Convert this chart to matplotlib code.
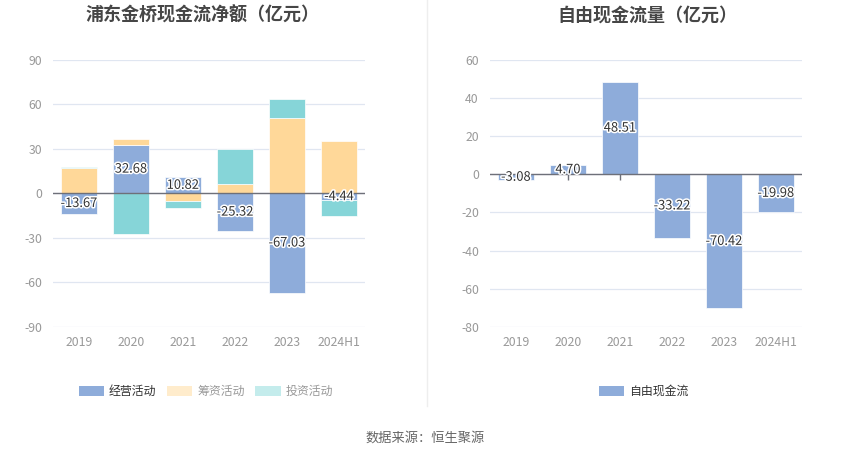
import numpy as np
import matplotlib
matplotlib.use('Agg')
import matplotlib.pyplot as plt
import matplotlib.patheffects as pe
from matplotlib.patches import Patch
from matplotlib.lines import Line2D

plt.rcParams['font.family'] = ['Noto Sans CJK SC', 'DejaVu Sans']
plt.rcParams['axes.unicode_minus'] = False

# Data (亿元)
years = ['2019', '2020', '2021', '2022', '2023', '2024H1']
operating = [-13.67, 32.68, 10.82, -25.32, -67.03, -4.44]
financing = [16.9, 4.0, -5.0, 6.5, 51.1, 35.3]
investing = [0.9, -27.5, -4.9, 23.4, 12.6, -10.6]
free_cf = [-3.08, 4.70, 48.51, -33.22, -70.42, -19.98]

series_names = ['经营活动', '筹资活动', '投资活动']
bar_colors = ['#8EACDA', '#FFD899', '#86D5D8']
legend_colors = ['#8EACDA', '#FFECCC', '#C4ECEC']
legend_text_colors = ['#333333', '#999999', '#999999']

grid_c = '#E0E6F1'
tick_c = '#999999'
title_c = '#464646'
bar_w = 0.69

fig = plt.figure(figsize=(8.5, 4.59), dpi=100)
ax1 = fig.add_axes([53 / 850, 1 - 326.7 / 459, 312 / 850, 266.7 / 459])
ax2 = fig.add_axes([490 / 850, 1 - 326.7 / 459, 312 / 850, 266.7 / 459])

x = np.arange(len(years))
outline = [pe.withStroke(linewidth=2.2, foreground='white')]


def style_axis(ax, ticks, lim):
    ax.set_xlim(-0.5, len(years) - 0.5)
    ax.set_ylim(*lim)
    ax.set_yticks(ticks)
    ax.set_yticklabels([str(t) for t in ticks])
    ax.set_xticks(x)
    ax.set_xticklabels(years)
    ax.tick_params(axis='both', length=0, colors=tick_c, labelsize=8.8)
    ax.tick_params(axis='x', pad=7)
    ax.tick_params(axis='y', pad=8)
    for s in ax.spines.values():
        s.set_visible(False)
    ax.grid(axis='y', color=grid_c, lw=0.9, zorder=0)
    ax.set_axisbelow(True)
    # zero axis line with small ticks at category centres
    ax.axhline(0, color='#6E7079', lw=1, zorder=3)
    span = lim[1] - lim[0]
    ax.vlines(x, 0, -span * 0.02, color='#6E7079', lw=1, zorder=1)


# left: stacked cash flows
style_axis(ax1, [-90, -60, -30, 0, 30, 60, 90], (-90, 90))
pos_base = np.zeros(len(years))
neg_base = np.zeros(len(years))
op_centres = None
for vals, c in zip([operating, financing, investing], bar_colors):
    v = np.array(vals)
    bottoms = np.where(v >= 0, pos_base, neg_base)
    ax1.bar(x, v, bar_w, bottom=bottoms, color=c, edgecolor='white', lw=0.5, zorder=2)
    if op_centres is None:
        op_centres = bottoms + v / 2
    pos_base = pos_base + np.where(v >= 0, v, 0)
    neg_base = neg_base + np.where(v < 0, v, 0)

for xi, yc, v in zip(x, op_centres, operating):
    ax1.text(xi, yc, f'{v:.2f}', ha='center', va='center', fontsize=9.3,
             color='#333333', path_effects=outline, zorder=5)

fig.text(203 / 850, 1 - 15 / 459, '浦东金桥现金流净额（亿元）', ha='center', va='center',
         fontsize=13, fontweight='bold', color=title_c)

# right: free cash flow
style_axis(ax2, [-80, -60, -40, -20, 0, 20, 40, 60], (-80, 60))
fcf = np.array(free_cf)
ax2.bar(x, fcf, bar_w, color=bar_colors[0], edgecolor='white', lw=0.5, zorder=2)
for xi, v in zip(x, fcf):
    ax2.text(xi, v / 2, f'{v:.2f}', ha='center', va='center', fontsize=9.3,
             color='#333333', path_effects=outline, zorder=5)
fig.text(647 / 850, 1 - 15 / 459, '自由现金流量（亿元）', ha='center', va='center',
         fontsize=13, fontweight='bold', color=title_c)

# legends
handles1 = [Patch(facecolor=c, edgecolor='none') for c in legend_colors]
leg1 = fig.legend(handles1, series_names, loc='center', bbox_to_anchor=(206 / 850, 1 - 391.5 / 459),
                  ncol=3, frameon=False, fontsize=8.6, handlelength=2.1, handleheight=1.0,
                  handletextpad=0.4, columnspacing=0.9)
for t, c in zip(leg1.get_texts(), legend_text_colors):
    t.set_color(c)

leg2 = fig.legend([Patch(facecolor=bar_colors[0], edgecolor='none')], ['自由现金流'], loc='center',
                  bbox_to_anchor=(644 / 850, 1 - 391.5 / 459), frameon=False, fontsize=8.6,
                  handlelength=2.1, handleheight=1.0, handletextpad=0.4)
leg2.get_texts()[0].set_color('#333333')

# separator and source
fig.add_artist(Line2D([427 / 850, 427 / 850], [1, 1 - 406 / 459], color='#EEEEEE', lw=1))
fig.text(425 / 850, 1 - 438 / 459, '数据来源：恒生聚源', ha='center', va='center',
         fontsize=9.5, color='#666666')

fig.savefig('out.png', dpi=100)
